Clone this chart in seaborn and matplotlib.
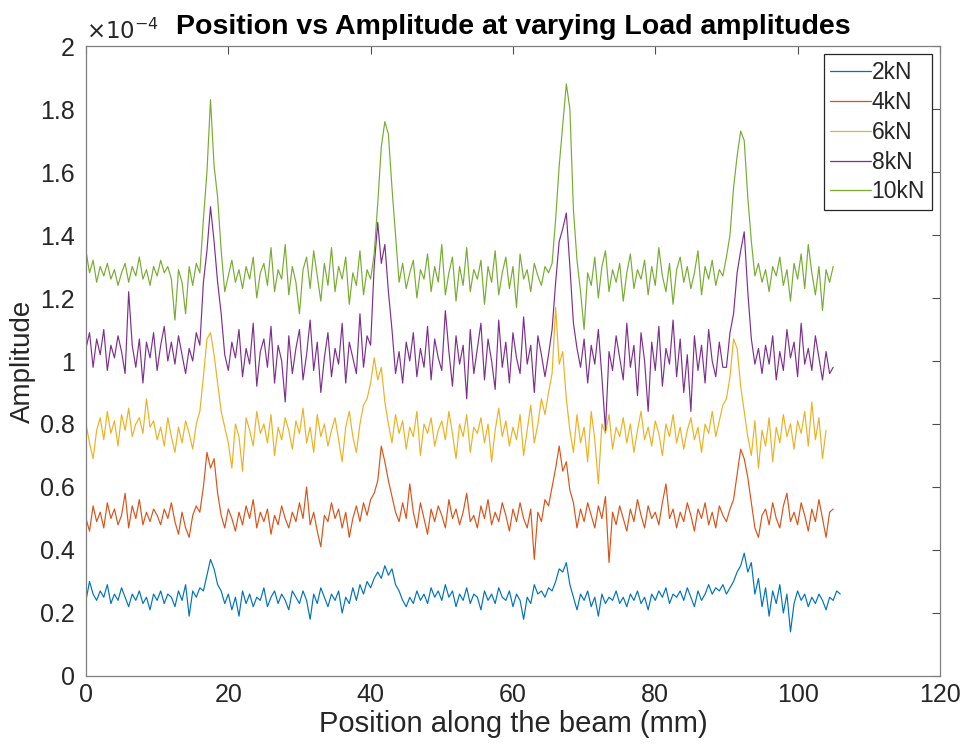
import numpy as np
import pandas as pd
import matplotlib
matplotlib.use("Agg")
import matplotlib.pyplot as plt
from matplotlib.ticker import FuncFormatter
import seaborn as sns

# ---- data (amplitude values in units of 1e-4, sampled every 0.5 mm) ----
step_mm = 0.5
amp_2kN = [
    0.24, 0.30, 0.26, 0.24, 0.27, 0.25, 0.29, 0.23, 0.26, 0.24,
    0.28, 0.25, 0.22, 0.26, 0.24, 0.27, 0.23, 0.25, 0.21, 0.26,
    0.24, 0.27, 0.23, 0.26, 0.25, 0.22, 0.27, 0.24, 0.29, 0.19,
    0.27, 0.25, 0.28, 0.27, 0.32, 0.37, 0.34, 0.29, 0.27, 0.23,
    0.26, 0.21, 0.25, 0.19, 0.27, 0.23, 0.26, 0.22, 0.25, 0.24,
    0.28, 0.22, 0.25, 0.27, 0.23, 0.26, 0.24, 0.21, 0.27, 0.25,
    0.23, 0.27, 0.24, 0.18, 0.26, 0.23, 0.28, 0.25, 0.22, 0.26,
    0.24, 0.27, 0.20, 0.25, 0.23, 0.28, 0.24, 0.29, 0.26, 0.30,
    0.28, 0.31, 0.33, 0.31, 0.35, 0.32, 0.34, 0.29, 0.27, 0.24,
    0.22, 0.25, 0.23, 0.27, 0.24, 0.26, 0.23, 0.28, 0.25, 0.27,
    0.24, 0.29, 0.25, 0.27, 0.22, 0.26, 0.24, 0.28, 0.23, 0.26,
    0.25, 0.21, 0.27, 0.24, 0.26, 0.23, 0.28, 0.25, 0.24, 0.27,
    0.22, 0.26, 0.24, 0.18, 0.25, 0.23, 0.29, 0.26, 0.27, 0.25,
    0.28, 0.27, 0.30, 0.34, 0.33, 0.36, 0.29, 0.25, 0.21, 0.26,
    0.24, 0.27, 0.22, 0.25, 0.19, 0.26, 0.23, 0.25, 0.24, 0.27,
    0.23, 0.25, 0.22, 0.26, 0.24, 0.27, 0.23, 0.25, 0.21, 0.26,
    0.24, 0.27, 0.25, 0.28, 0.23, 0.26, 0.25, 0.27, 0.24, 0.28,
    0.25, 0.22, 0.27, 0.24, 0.26, 0.29, 0.26, 0.28, 0.27, 0.29,
    0.26, 0.28, 0.30, 0.33, 0.35, 0.39, 0.33, 0.36, 0.26, 0.31,
    0.22, 0.28, 0.19, 0.27, 0.23, 0.29, 0.20, 0.26, 0.14, 0.23,
    0.27, 0.24, 0.26, 0.22, 0.25, 0.23, 0.26, 0.24, 0.21, 0.25,
    0.24, 0.27, 0.26,
]
amp_4kN = [
    0.50, 0.46, 0.54, 0.49, 0.52, 0.47, 0.55, 0.50, 0.53, 0.48,
    0.51, 0.58, 0.47, 0.54, 0.50, 0.56, 0.48, 0.52, 0.49, 0.53,
    0.51, 0.48, 0.53, 0.50, 0.55, 0.49, 0.45, 0.52, 0.47, 0.44,
    0.51, 0.54, 0.52, 0.60, 0.71, 0.66, 0.69, 0.58, 0.51, 0.47,
    0.53, 0.50, 0.46, 0.52, 0.48, 0.54, 0.50, 0.56, 0.47, 0.52,
    0.49, 0.53, 0.45, 0.51, 0.48, 0.54, 0.50, 0.47, 0.52, 0.49,
    0.55, 0.50, 0.60, 0.48, 0.52, 0.46, 0.41, 0.51, 0.49, 0.55,
    0.50, 0.53, 0.47, 0.52, 0.44, 0.50, 0.54, 0.49, 0.55, 0.51,
    0.56, 0.58, 0.62, 0.73, 0.68, 0.62, 0.57, 0.52, 0.49, 0.55,
    0.50, 0.61, 0.52, 0.47, 0.55, 0.50, 0.45, 0.53, 0.49, 0.54,
    0.51, 0.47, 0.56, 0.50, 0.53, 0.48, 0.52, 0.58, 0.49, 0.51,
    0.47, 0.54, 0.50, 0.56, 0.48, 0.52, 0.49, 0.55, 0.51, 0.46,
    0.53, 0.49, 0.55, 0.50, 0.47, 0.53, 0.37, 0.52, 0.49, 0.56,
    0.54, 0.60, 0.66, 0.73, 0.65, 0.68, 0.59, 0.55, 0.47, 0.53,
    0.49, 0.55, 0.51, 0.47, 0.54, 0.50, 0.57, 0.36, 0.52, 0.48,
    0.54, 0.50, 0.46, 0.53, 0.49, 0.56, 0.51, 0.47, 0.54, 0.50,
    0.52, 0.48, 0.55, 0.61, 0.50, 0.53, 0.47, 0.52, 0.49, 0.55,
    0.51, 0.46, 0.53, 0.50, 0.55, 0.48, 0.52, 0.47, 0.54, 0.51,
    0.49, 0.53, 0.56, 0.64, 0.72, 0.69, 0.63, 0.55, 0.47, 0.44,
    0.51, 0.53, 0.48, 0.55, 0.50, 0.47, 0.54, 0.58, 0.49, 0.52,
    0.48, 0.55, 0.51, 0.46, 0.53, 0.49, 0.56, 0.50, 0.44, 0.52,
    0.53,
]
amp_6kN = [
    0.80, 0.74, 0.69, 0.78, 0.82, 0.75, 0.84, 0.77, 0.81, 0.73,
    0.83, 0.78, 0.85, 0.76, 0.80, 0.82, 0.77, 0.88, 0.79, 0.81,
    0.75, 0.79, 0.73, 0.82, 0.76, 0.71, 0.79, 0.74, 0.81, 0.77,
    0.72, 0.80, 0.84, 0.95, 1.07, 1.09, 1.02, 0.93, 0.84, 0.79,
    0.74, 0.66, 0.80, 0.76, 0.65, 0.82, 0.78, 0.73, 0.84, 0.77,
    0.80, 0.74, 0.83, 0.70, 0.79, 0.75, 0.82, 0.78, 0.72, 0.81,
    0.77, 0.85, 0.74, 0.79, 0.71, 0.83, 0.76, 0.80, 0.73, 0.78,
    0.82, 0.75, 0.68, 0.79, 0.84, 0.76, 0.71, 0.80, 0.86, 0.88,
    0.93, 1.01, 0.94, 0.98, 0.87, 0.80, 0.74, 0.83, 0.77, 0.81,
    0.72, 0.79, 0.76, 0.84, 0.70, 0.80, 0.77, 0.82, 0.73, 0.78,
    0.81, 0.75, 0.84, 0.77, 0.69, 0.80, 0.76, 0.83, 0.71, 0.79,
    0.77, 0.82, 0.74, 0.80, 0.68, 0.78, 0.85, 0.76, 0.81, 0.73,
    0.79, 0.75, 0.83, 0.70, 0.78, 0.86, 0.74, 0.80, 0.88, 0.83,
    0.90, 0.96, 1.17, 0.99, 1.03, 0.88, 0.78, 0.71, 0.83, 0.74,
    0.79, 0.68, 0.84, 0.75, 0.61, 0.80, 0.77, 0.83, 0.72, 0.79,
    0.76, 0.82, 0.74, 0.80, 0.71, 0.78, 0.84, 0.75, 0.79, 0.73,
    0.81, 0.77, 0.70, 0.80, 0.76, 0.83, 0.74, 0.79, 0.72, 0.78,
    0.82, 0.75, 0.79, 0.71, 0.80, 0.77, 0.84, 0.76, 0.81, 0.86,
    0.88, 0.95, 1.07, 1.04, 0.92, 0.84, 0.76, 0.70, 0.81, 0.66,
    0.78, 0.73, 0.82, 0.68, 0.79, 0.74, 0.83, 0.76, 0.80, 0.72,
    0.81, 0.77, 0.84, 0.73, 0.87, 0.75, 0.82, 0.69, 0.78,
]
amp_8kN = [
    1.04, 1.09, 0.98, 1.07, 1.02, 1.10, 0.97, 1.05, 1.01, 1.08,
    1.03, 0.96, 1.22, 1.05, 0.98, 1.07, 0.93, 1.06, 1.01, 1.09,
    0.97, 1.05, 1.11, 1.00, 1.06, 0.99, 1.08, 1.02, 0.96, 1.04,
    1.00, 1.09, 1.05, 1.25, 1.35, 1.49, 1.38, 1.25, 1.15, 1.02,
    0.97, 1.06, 1.01, 1.10, 0.95, 1.04, 0.99, 1.12, 0.92, 1.03,
    1.07, 0.98, 1.11, 0.93, 1.05, 1.00, 0.87, 1.08, 0.96, 1.04,
    1.10, 0.94, 1.02, 1.13, 0.97, 1.06, 0.90, 1.01, 1.09, 0.95,
    1.04, 0.99, 1.12, 0.93, 1.06, 1.01, 0.96, 1.15, 0.98, 1.08,
    1.05, 1.30, 1.44, 1.31, 1.37, 1.22, 1.10, 0.96, 1.03, 0.93,
    1.06, 1.00, 1.09, 0.95, 1.04, 0.98, 1.11, 0.94, 1.07, 1.01,
    0.97, 1.16, 1.03, 0.92, 1.08, 0.99, 1.05, 0.88, 1.10, 0.96,
    1.04, 1.12, 0.94, 1.07, 1.00, 0.91, 1.13, 0.98, 1.06, 0.93,
    1.09, 1.01, 0.96, 1.14, 0.99, 1.05, 0.90, 1.08, 1.02, 0.95,
    1.02, 1.10, 1.25, 1.38, 1.42, 1.47, 1.30, 1.12, 1.04, 0.98,
    1.07, 0.93, 1.05, 0.99, 1.10, 0.95, 0.78, 1.03, 0.97, 1.08,
    1.01, 0.94, 1.12, 0.98, 1.05, 0.89, 1.09, 1.00, 0.84, 1.06,
    0.97, 1.11, 0.92, 1.04, 0.99, 1.13, 0.95, 1.07, 0.90, 1.02,
    0.84, 1.08, 0.97, 1.05, 0.93, 1.10, 1.00, 0.95, 1.06, 0.98,
    0.98, 1.09, 1.15, 1.28, 1.35, 1.41, 1.22, 1.07, 0.99, 1.04,
    0.96, 1.05, 0.99, 1.08, 0.94, 1.03, 0.97, 1.10, 1.01, 1.06,
    0.95, 1.12, 0.99, 1.04, 0.97, 1.08, 1.01, 0.94, 1.03, 0.96,
    0.98,
]
amp_10kN = [
    1.35, 1.28, 1.32, 1.25, 1.30, 1.27, 1.31, 1.26, 1.29, 1.24,
    1.28, 1.31, 1.25, 1.30, 1.27, 1.33, 1.26, 1.29, 1.24, 1.30,
    1.27, 1.32, 1.28, 1.30, 1.26, 1.13, 1.29, 1.25, 1.15, 1.30,
    1.24, 1.31, 1.28, 1.45, 1.60, 1.83, 1.62, 1.52, 1.35, 1.22,
    1.27, 1.32, 1.25, 1.29, 1.23, 1.30, 1.26, 1.33, 1.20, 1.28,
    1.31, 1.24, 1.36, 1.22, 1.29, 1.26, 1.37, 1.21, 1.30, 1.25,
    1.15, 1.29, 1.33, 1.23, 1.35, 1.27, 1.19, 1.31, 1.24, 1.36,
    1.22, 1.30, 1.26, 1.33, 1.18, 1.28, 1.24, 1.35, 1.21, 1.29,
    1.26, 1.34, 1.50, 1.68, 1.76, 1.72, 1.55, 1.40, 1.25, 1.31,
    1.23, 1.28, 1.32, 1.20, 1.29, 1.26, 1.34, 1.22, 1.30, 1.25,
    1.37, 1.21, 1.28, 1.33, 1.19, 1.30, 1.24, 1.36, 1.22, 1.29,
    1.26, 1.32, 1.18, 1.30, 1.25, 1.35, 1.21, 1.28, 1.33, 1.23,
    1.30, 1.17, 1.34, 1.26, 1.29, 1.22, 1.31, 1.27, 1.24, 1.30,
    1.28, 1.31, 1.45, 1.62, 1.75, 1.88, 1.80, 1.48, 1.32, 1.22,
    1.10, 1.28, 1.24, 1.33, 1.20, 1.30, 1.35, 1.22, 1.29, 1.25,
    1.31, 1.19, 1.28, 1.34, 1.23, 1.29, 1.26, 1.32, 1.21, 1.30,
    1.24, 1.36, 1.27, 1.22, 1.31, 1.18, 1.29, 1.33, 1.25, 1.30,
    1.23, 1.28, 1.35, 1.21, 1.30, 1.26, 1.32, 1.24, 1.29, 1.27,
    1.33, 1.40, 1.55, 1.65, 1.73, 1.70, 1.52, 1.38, 1.27, 1.31,
    1.25, 1.29, 1.22, 1.30, 1.27, 1.33, 1.24, 1.29, 1.19, 1.31,
    1.26, 1.34, 1.23, 1.37, 1.28, 1.21, 1.30, 1.16, 1.29, 1.25,
    1.30,
]
series_labels = ["2kN", "4kN", "6kN", "8kN", "10kN"]
series_values = [amp_2kN, amp_4kN, amp_6kN, amp_8kN, amp_10kN]
series_colors = ["#0072BD", "#D95319", "#EDB120", "#7E2F8E", "#77AC30"]
y_ticks = [0, 0.2, 0.4, 0.6, 0.8, 1.0, 1.2, 1.4, 1.6, 1.8, 2.0]
x_ticks = [0, 20, 40, 60, 80, 100, 120]

# ---- long-form table ----
frames = []
for lab, vals in zip(series_labels, series_values):
    pos = np.arange(len(vals)) * step_mm
    frames.append(pd.DataFrame({"Position": pos,
                                "Amplitude": np.array(vals) * 1e-4,
                                "Load": lab}))
df = pd.concat(frames, ignore_index=True)

sns.set_style("white")
plt.rcParams["font.family"] = ["Liberation Sans", "DejaVu Sans"]

fig = plt.figure(figsize=(9.66, 7.51), dpi=100)
ax = fig.add_axes([0.089, 0.0999, 0.884, 0.8388])

sns.lineplot(data=df, x="Position", y="Amplitude", hue="Load",
             hue_order=series_labels, palette=series_colors,
             estimator=None, sort=False, linewidth=0.85, ax=ax)

ax.set_xlim(0, 120)
ax.set_ylim(0, 2e-4)
ax.set_xticks(x_ticks)
ax.set_yticks([v * 1e-4 for v in y_ticks])
ax.yaxis.set_major_formatter(FuncFormatter(lambda v, p: f"{v * 1e4:g}"))

axcol = "#262626"
for sp in ax.spines.values():
    sp.set_visible(True)
    sp.set_color("#7f7f7f")
    sp.set_linewidth(0.9)
ax.tick_params(direction="in", length=6, width=0.8, color="#4d4d4d",
               labelsize=18, labelcolor=axcol, top=True, right=True)
ax.tick_params(axis="y", pad=8)
ax.tick_params(axis="x", pad=5)

ax.set_xlabel("Position along the beam (mm)", fontsize=21, color=axcol,
              labelpad=2)
ax.set_ylabel("Amplitude", fontsize=20, color=axcol, labelpad=3)
ax.set_title("Position vs Amplitude at varying Load amplitudes",
             fontsize=20.5, fontweight="bold", color="black", pad=9)
ax.text(0.0, 1.003, r"$\times10^{-4}$", transform=ax.transAxes,
        fontsize=16.5, color=axcol, ha="left", va="bottom")

leg = ax.legend(loc="upper right", fontsize=16.5, frameon=True,
                fancybox=False, edgecolor="#262626", framealpha=1,
                handlelength=1.75, handletextpad=0.05, borderpad=0.3,
                labelspacing=0.3, borderaxespad=0.35)
leg.get_frame().set_linewidth(0.9)
for line in leg.get_lines():
    line.set_linewidth(0.9)

fig.savefig("out.png", dpi=100, facecolor="white")
